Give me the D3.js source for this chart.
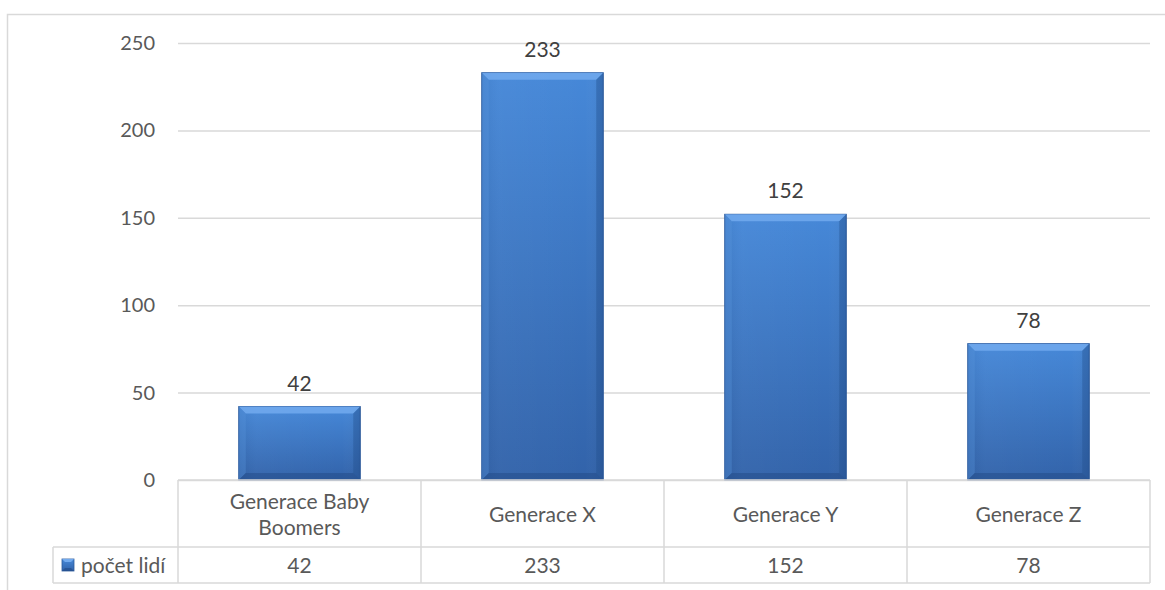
<!DOCTYPE html>
<html><head><meta charset="utf-8">
<script src="https://cdn.jsdelivr.net/npm/d3@7"></script>
<style>html,body{margin:0;padding:0;background:#fff;}svg{display:block;}</style>
</head><body>
<svg id="c" width="1165" height="590"></svg>
<script>
const categories = ["Generace Baby Boomers", "Generace X", "Generace Y", "Generace Z"];
const categoryLines = [["Generace Baby", "Boomers"], ["Generace X"], ["Generace Y"], ["Generace Z"]];
const values = [42, 233, 152, 78];
const seriesName = "počet lidí";
const yTicks = [0, 50, 100, 150, 200, 250];

const svg = d3.select("#c");
const font = "Lato, 'Open Sans', sans-serif";
const txt = "#595959";
const grid = "#d9d9d9";

const L = 178, R = 1150, T = 43, B = 480;
const x = d3.scaleBand().domain(categories).range([L, R]).paddingInner(0.5).paddingOuter(0.25);
const y = d3.scaleLinear().domain([0, 250]).range([B, T]);

// outer frame
svg.append("rect").attr("x", 7.5).attr("y", 14.5).attr("width", 1200).attr("height", 600)
  .attr("fill", "none").attr("stroke", grid).attr("stroke-width", 1.5);

const defs = svg.append("defs");
const g1 = defs.append("linearGradient").attr("id", "barG").attr("x1", 0).attr("y1", 0).attr("x2", 0).attr("y2", 1);
g1.append("stop").attr("offset", "0%").attr("stop-color", "#4688d8");
g1.append("stop").attr("offset", "100%").attr("stop-color", "#3263aa");
const gh = defs.append("linearGradient").attr("id", "hG").attr("x1", 0).attr("y1", 0).attr("x2", 1).attr("y2", 0);
gh.append("stop").attr("offset", "0%").attr("stop-color", "#000").attr("stop-opacity", 0.05);
gh.append("stop").attr("offset", "15%").attr("stop-color", "#fff").attr("stop-opacity", 0.03);
gh.append("stop").attr("offset", "85%").attr("stop-color", "#fff").attr("stop-opacity", 0);
gh.append("stop").attr("offset", "100%").attr("stop-color", "#000").attr("stop-opacity", 0.06);

// gridlines
const yAxis = d3.axisLeft(y).tickValues(yTicks).tickSize(-(R - L)).tickPadding(23);
const ga = svg.append("g").attr("transform", `translate(${L},0)`).call(yAxis);
ga.select(".domain").remove();
ga.selectAll(".tick line").attr("stroke", grid).attr("stroke-width", 1.5);
ga.selectAll(".tick text").attr("fill", txt).attr("font-family", font).attr("font-size", 20);

// bars
const bw = x.bandwidth();
const e = 7;
const bars = svg.append("g").selectAll("g").data(values).join("g");
bars.each(function(v, i) {
  const g = d3.select(this);
  const x0 = x(categories[i]), x1 = x0 + bw, y0 = y(v), y1 = y(0);
  g.append("rect").attr("x", x0).attr("y", y0).attr("width", bw).attr("height", y1 - y0)
    .attr("fill", "url(#barG)").attr("stroke", "#2c5a9c").attr("stroke-width", 1);
  g.append("rect").attr("x", x0).attr("y", y0).attr("width", bw).attr("height", y1 - y0).attr("fill", "url(#hG)");
  g.append("polygon").attr("points", [[x0, y0], [x1, y0], [x1 - e, y0 + e], [x0 + e, y0 + e]].join(" "))
    .attr("fill", "#72aaee").attr("opacity", 0.85);
  g.append("polygon").attr("points", [[x0, y0], [x0 + e, y0 + e], [x0 + e, y1 - e], [x0, y1]].join(" "))
    .attr("fill", "#5a95de").attr("opacity", 0.35);
  g.append("polygon").attr("points", [[x1, y0], [x1, y1], [x1 - e, y1 - e], [x1 - e, y0 + e]].join(" "))
    .attr("fill", "#24508f").attr("opacity", 0.4);
  g.append("polygon").attr("points", [[x0, y1], [x1, y1], [x1 - e, y1 - e], [x0 + e, y1 - e]].join(" "))
    .attr("fill", "#224a85").attr("opacity", 0.5);
  g.append("text").attr("x", x0 + bw / 2).attr("y", y0 - 16).attr("text-anchor", "middle")
    .attr("fill", "#404040").attr("font-family", font).attr("font-size", 21).text(v);
});

// data table
const tb = svg.append("g").attr("stroke", grid).attr("stroke-width", 1.5).attr("fill", "none");
const rowMid = 547, rowBot = 583, legL = 53;
tb.append("line").attr("x1", L).attr("x2", R).attr("y1", B).attr("y2", B);
tb.append("line").attr("x1", legL).attr("x2", R).attr("y1", rowMid).attr("y2", rowMid);
tb.append("line").attr("x1", legL).attr("x2", R).attr("y1", rowBot).attr("y2", rowBot);
tb.append("line").attr("x1", legL).attr("x2", legL).attr("y1", rowMid).attr("y2", rowBot);
const step = x.step();
d3.range(categories.length + 1).forEach(k => {
  const xx = L + k * step;
  tb.append("line").attr("x1", xx).attr("x2", xx).attr("y1", B).attr("y2", rowBot);
});

categories.forEach((c, i) => {
  const cx = x(c) + bw / 2;
  const lines = categoryLines[i];
  const t = svg.append("text").attr("text-anchor", "middle").attr("fill", txt)
    .attr("font-family", font).attr("font-size", 21);
  const startY = lines.length === 1 ? 522 : 509;
  lines.forEach((ln, j) => t.append("tspan").attr("x", cx).attr("y", startY + j * 26).text(ln));
  svg.append("text").attr("x", cx).attr("y", 573).attr("text-anchor", "middle").attr("fill", txt)
    .attr("font-family", font).attr("font-size", 21).text(values[i]);
});

// legend key
const kx = 62, ky = 559, ks = 12;
svg.append("rect").attr("x", kx).attr("y", ky).attr("width", ks).attr("height", ks).attr("fill", "url(#barG)").attr("stroke", "#2c5a9c").attr("stroke-width", 0.8);
svg.append("polygon").attr("points", [[kx, ky], [kx + ks, ky], [kx + ks - 3, ky + 3], [kx + 3, ky + 3]].join(" ")).attr("fill", "#72aaee");
svg.append("polygon").attr("points", [[kx, ky + ks], [kx + ks, ky + ks], [kx + ks - 3, ky + ks - 3], [kx + 3, ky + ks - 3]].join(" ")).attr("fill", "#224a85").attr("opacity", 0.6);
svg.append("text").attr("x", 81).attr("y", 573).attr("fill", txt).attr("font-family", font)
  .attr("font-size", 21).text(seriesName);
</script>
</body></html>
